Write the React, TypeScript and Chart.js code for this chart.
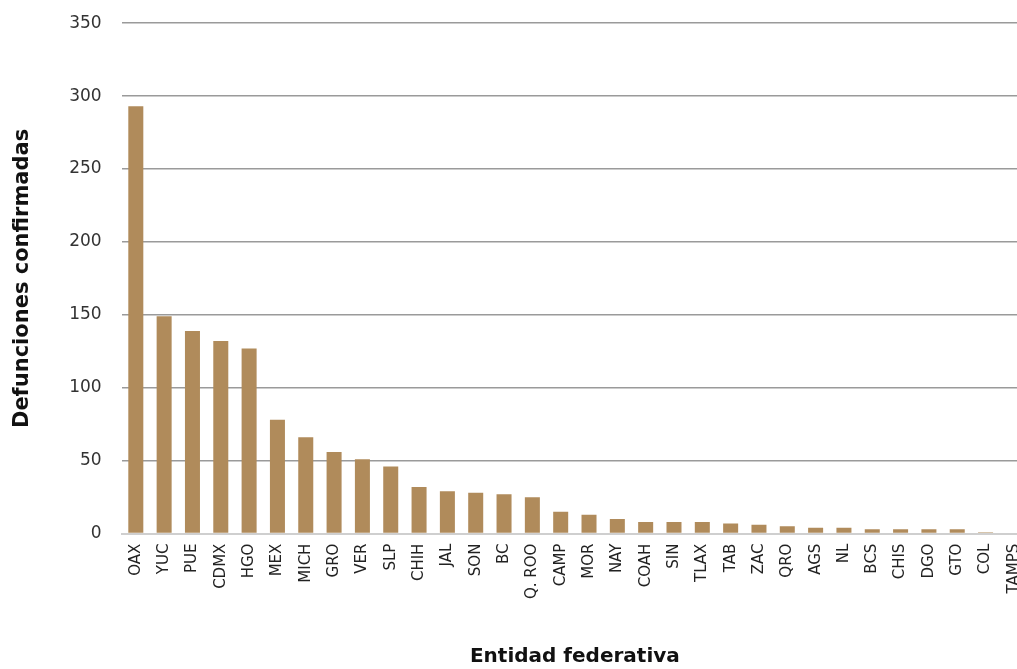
import React, { useEffect, useRef } from "react";
import { Chart, registerables } from "chart.js";

Chart.register(...registerables);

const categories = [
  "OAX", "YUC", "PUE", "CDMX", "HGO", "MEX", "MICH", "GRO", "VER", "SLP",
  "CHIH", "JAL", "SON", "BC", "Q. ROO", "CAMP", "MOR", "NAY", "COAH", "SIN",
  "TLAX", "TAB", "ZAC", "QRO", "AGS", "NL", "BCS", "CHIS", "DGO", "GTO",
  "COL", "TAMPS",
];

const deaths = [
  293, 149, 139, 132, 127, 78, 66, 56, 51, 46,
  32, 29, 28, 27, 25, 15, 13, 10, 8, 8,
  8, 7, 6, 5, 4, 4, 3, 3, 3, 3,
  1, 0,
];

const yTicks = [0, 50, 100, 150, 200, 250, 300, 350];

const yTitle = "Defunciones confirmadas";
const xTitle = "Entidad federativa";

export default function App() {
  const ref = useRef<HTMLCanvasElement | null>(null);

  useEffect(() => {
    if (!ref.current) return;
    const chart = new Chart(ref.current, {
      type: "bar",
      data: {
        labels: categories,
        datasets: [
          {
            data: deaths,
            backgroundColor: "#B08B5B",
            borderWidth: 0,
            barPercentage: 0.53,
            categoryPercentage: 1,
          },
        ],
      },
      options: {
        animation: false,
        responsive: true,
        maintainAspectRatio: false,
        layout: { padding: { left: 10, top: 5, right: 7, bottom: 0 } },
        plugins: {
          legend: { display: false },
          tooltip: { enabled: false },
        },
        scales: {
          x: {
            grid: { display: false, drawTicks: false },
            border: { color: "#cfcfcf", width: 2 },
            ticks: {
              autoSkip: false,
              minRotation: 90,
              maxRotation: 90,
              padding: 10,
              color: "#222",
              font: { family: "DejaVu Sans", size: 15 },
            },
            title: {
              display: true,
              text: xTitle,
              color: "#111",
              font: { family: "DejaVu Sans", size: 20, weight: "bold" },
              padding: { top: 36, bottom: 0 },
            },
          },
          y: {
            min: 0,
            max: 350,
            afterBuildTicks: (axis: any) => {
              axis.ticks = yTicks.map((v) => ({ value: v }));
            },
            grid: { color: "#9a9a9a", lineWidth: 1.5, drawTicks: false },
            border: { display: false },
            ticks: {
              padding: 20,
              color: "#333",
              font: { family: "DejaVu Sans", size: 17 },
            },
            title: {
              display: true,
              text: yTitle,
              color: "#111",
              font: { family: "DejaVu Sans", size: 21, weight: "bold" },
              padding: { top: 0, bottom: 14 },
            },
          },
        },
      },
    });
    return () => chart.destroy();
  }, []);

  return (
    <div
      style={{
        position: "absolute",
        left: 0,
        top: 0,
        width: 1017,
        height: 669,
        overflow: "hidden",
        background: "#fff",
      }}
    >
      <div style={{ position: "relative", top: -7, width: 1042, height: 676 }}>
        <canvas ref={ref} />
      </div>
    </div>
  );
}
